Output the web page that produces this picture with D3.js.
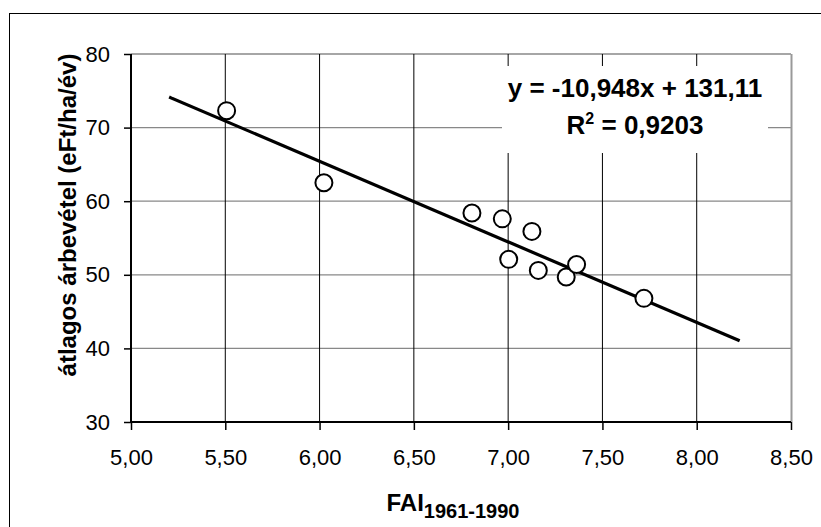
<!DOCTYPE html>
<html><head><meta charset="utf-8">
<script src="https://cdn.jsdelivr.net/npm/d3@7"></script>
<style>body{margin:0;background:#fff}svg{display:block}text{font-family:Arial,"Liberation Sans",sans-serif}</style>
</head><body>
<svg id="c" width="821" height="527"></svg>
<script>
const xTicks = [5.0,5.5,6.0,6.5,7.0,7.5,8.0,8.5];
const yTicks = [30,40,50,60,70,80];
const faiValues = [5.507,6.023,6.808,6.969,7.126,7.003,7.160,7.308,7.363,7.720];
const revenueValues = [72.3,62.5,58.4,57.6,55.9,52.1,50.6,49.7,51.4,46.8];
const trendSlope = -10.948, trendIntercept = 131.11;
const trendRange = [5.21, 8.22];
const eqLine1 = "y = -10,948x + 131,11";
const eqR2 = "0,9203";
const yTitle = "átlagos árbevétel (eFt/ha/év)";
const xTitleMain = "FAI", xTitleSub = "1961-1990";

const svg = d3.select("#c");
const fmt = v => d3.format(".2f")(v).replace(".", ",");
const x = d3.scaleLinear().domain([5, 8.5]).range([131, 791]);
const y = d3.scaleLinear().domain([30, 80]).range([422, 54]);

// outer border
svg.append("rect").attr("x",9.5).attr("y",13.5).attr("width",830).attr("height",530)
  .attr("fill","none").attr("stroke","#000").attr("stroke-width",1);

// horizontal gridlines (gray)
svg.append("g").selectAll("line").data(yTicks.filter(d=>d>30)).join("line")
  .attr("x1",x(5)).attr("x2",x(8.5)).attr("y1",d=>y(d)).attr("y2",d=>y(d))
  .attr("stroke","#888").attr("stroke-width",d=>d===80?1.5:1.3);
// vertical gridlines (black)
svg.append("g").selectAll("line").data(xTicks.filter(d=>d>5 && d<8.5)).join("line")
  .attr("x1",d=>x(d)).attr("x2",d=>x(d)).attr("y1",y(80)).attr("y2",y(30))
  .attr("stroke","#000").attr("stroke-width",1);
// right border gray
svg.append("line").attr("x1",x(8.5)+0.5).attr("x2",x(8.5)+0.5).attr("y1",y(80)).attr("y2",y(30))
  .attr("stroke","#999").attr("stroke-width",2);

// equation box
svg.append("rect").attr("x",502).attr("y",66).attr("width",266).attr("height",87).attr("fill","#fff");

// axes
const yAxis = d3.axisLeft(y).tickValues(yTicks).tickSize(7).tickPadding(14).tickFormat(d3.format("d"));
const gy = svg.append("g").attr("transform",`translate(${x(5)},0)`).call(yAxis);
const xAxis = d3.axisBottom(x).tickValues(xTicks).tickSize(8).tickPadding(19).tickFormat(fmt);
const gx = svg.append("g").attr("transform",`translate(0,${y(30)})`).call(xAxis);
[gx, gy].forEach(g => {
  g.select(".domain").remove();
  g.selectAll(".tick line").attr("stroke","#000").attr("stroke-width",1.5);
  g.selectAll("text").attr("font-size",22).attr("fill","#000").attr("font-family","Arial, 'Liberation Sans', sans-serif");
});
svg.append("line").attr("x1",x(5)).attr("x2",x(5)).attr("y1",y(80)).attr("y2",y(30)+1).attr("stroke","#000").attr("stroke-width",2);
svg.append("line").attr("x1",x(5)-1).attr("x2",x(8.5)).attr("y1",y(30)).attr("y2",y(30)).attr("stroke","#000").attr("stroke-width",2);

// trend line
svg.append("line")
  .attr("x1",x(trendRange[0])).attr("y1",y(trendSlope*trendRange[0]+trendIntercept))
  .attr("x2",x(trendRange[1])).attr("y2",y(trendSlope*trendRange[1]+trendIntercept))
  .attr("stroke","#000").attr("stroke-width",3.2).attr("stroke-linecap","square");

// points
svg.append("g").selectAll("circle").data(faiValues.map((v,i)=>[v,revenueValues[i]])).join("circle")
  .attr("cx",d=>x(d[0])).attr("cy",d=>y(d[1])).attr("r",8.5)
  .attr("fill","#fff").attr("stroke","#000").attr("stroke-width",2);

// equation
svg.append("text").attr("x",635).attr("y",97).attr("text-anchor","middle")
  .attr("font-size",26).attr("font-weight","bold").attr("xml:space","preserve").text(eqLine1);
const t2 = svg.append("text").attr("x",635).attr("y",134).attr("text-anchor","middle")
  .attr("font-size",26).attr("font-weight","bold");
t2.append("tspan").text("R");
t2.append("tspan").attr("font-size",16).attr("dy",-10).text("2");
t2.append("tspan").attr("dy",10).text(" = " + eqR2);

// axis titles
svg.append("text").attr("transform",`translate(76,215) rotate(-90)`).attr("text-anchor","middle")
  .attr("font-size",24).attr("font-weight","bold").text(yTitle);
const xt = svg.append("text").attr("x",453).attr("y",511).attr("text-anchor","middle")
  .attr("font-weight","bold").attr("font-size",24);
xt.append("tspan").text(xTitleMain);
xt.append("tspan").attr("font-size",20).attr("dy",7).text(xTitleSub);
</script>
</body></html>
